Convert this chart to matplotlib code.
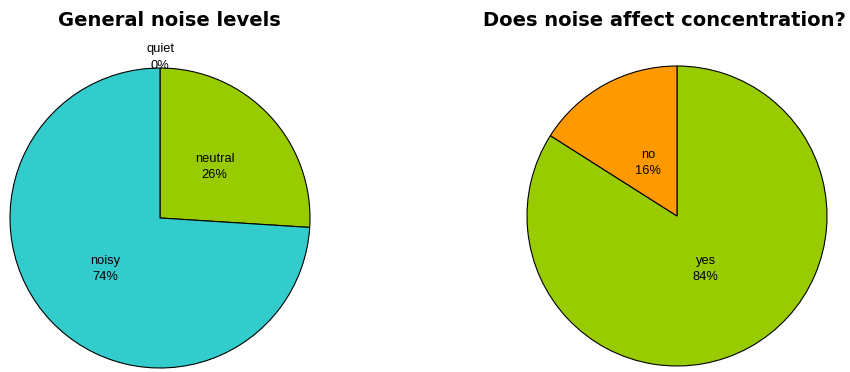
import numpy as np
import matplotlib.pyplot as plt

# ----------------------------
# Survey results
# ----------------------------
noise_labels = ["quiet", "neutral", "noisy"]
noise_pct = [0, 26, 74]
noise_colors = ["#FF9900", "#99CC00", "#33CCCC"]

focus_labels = ["yes", "no"]
focus_pct = [84, 16]
focus_colors = ["#99CC00", "#FF9900"]

W, H = 850, 372


def draw_pie(rect, values, labels, colors, inner_dist, outer_dist=1.07):
    ax = fig.add_axes(rect)
    wedges, _ = ax.pie(
        values,
        colors=colors,
        startangle=90,
        counterclock=False,
        radius=1.0,
        wedgeprops=dict(edgecolor="black", linewidth=0.8),
    )
    for w, lab, v in zip(wedges, labels, values):
        mid = np.deg2rad(0.5 * (w.theta1 + w.theta2))
        d = outer_dist if v == 0 else inner_dist
        ax.text(d * np.cos(mid), d * np.sin(mid), f"{lab}\n{v}%",
                ha="center", va="center", fontsize=9.3,
                family="Liberation Sans", linespacing=1.45)
    ax.set_xlim(-1, 1)
    ax.set_ylim(-1, 1)
    ax.axis("off")
    return ax


fig = plt.figure(figsize=(W / 100, H / 100), dpi=100)

# left pie: centre (160, 218) px, radius 150 px
draw_pie([10 / W, 4 / H, 300 / W, 300 / H],
         noise_pct, noise_labels, noise_colors, inner_dist=0.5)
# right pie: centre (677, 216) px, radius 150 px
draw_pie([527 / W, 6 / H, 300 / W, 300 / H],
         focus_pct, focus_labels, focus_colors, inner_dist=0.4)

fig.text(169 / W, 1 - 20 / H, "General noise levels", ha="center", va="center",
         fontsize=14.0, fontweight="bold", family="DejaVu Sans")
fig.text(846 / W, 1 - 20 / H, "Does noise affect concentration?", ha="right",
         va="center", fontsize=14.0, fontweight="bold", family="DejaVu Sans")

fig.savefig("out.png", dpi=100)
